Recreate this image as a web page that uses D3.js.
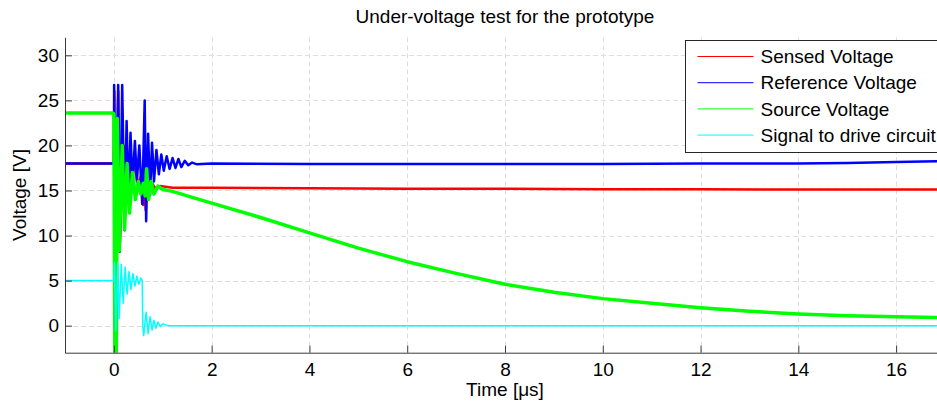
<!DOCTYPE html>
<html>
<head>
<meta charset="utf-8">
<script src="https://cdn.jsdelivr.net/npm/d3@7"></script>
<style>
  body { margin: 0; background: #fff; }
  svg { display: block; font-family: "Liberation Sans", Arial, sans-serif; }
</style>
</head>
<body>
<div id="chart"></div>
<script>
// values (time in µs, voltage in V)
const timeTicks = [0, 2, 4, 6, 8, 10, 12, 14, 16];
const voltTicks = [0, 5, 10, 15, 20, 25, 30];

const sensedVoltage = [
  [-1, 18], [0, 18], [0.01, 26], [0.03, 9], [0.09, 26], [0.12, 9], [0.2, 20], [0.3, 15],
  [0.4, 18.5], [0.5, 15.5], [0.56, 16.8], [0.6, 13.4], [0.62, 16.5], [0.65, 12.8],
  [0.68, 16.2], [0.72, 15], [0.78, 15.8], [0.85, 15.2], [0.95, 15.5], [1.2, 15.3],
  [2, 15.3], [4, 15.25], [6, 15.2], [8, 15.2], [10, 15.15], [12, 15.15], [14, 15.1],
  [16, 15.1], [17, 15.1]
];

const referenceVoltage = [
  [-1, 18], [0, 18], [0.005, 26.7], [0.03, 8.2], [0.088, 26.7], [0.12, 8.2], [0.17, 26.7],
  [0.22, 10.6], [0.26, 22.7], [0.3, 14], [0.34, 21.4], [0.38, 15.5], [0.43, 20.5],
  [0.47, 16], [0.52, 20], [0.58, 13.5], [0.63, 25], [0.66, 11.6], [0.7, 21.3], [0.74, 14.5],
  [0.78, 20.3], [0.82, 16], [0.87, 19.5], [0.92, 16.8], [0.97, 19], [1.02, 17.2],
  [1.08, 18.8], [1.14, 17.4], [1.2, 18.6], [1.26, 17.5], [1.32, 18.5], [1.38, 17.6],
  [1.45, 18.3], [1.52, 17.8], [1.6, 18.1], [1.7, 17.9], [2, 18], [4, 17.95], [6, 17.95],
  [8, 17.95], [10, 17.95], [12, 18], [14, 18], [15, 18.05], [16, 18.15], [17, 18.25]
];

const sourceVoltage = [
  [-1, 23.6], [-0.02, 23.6], [0, 23.5], [0.02, -3.5], [0.05, -3.5], [0.07, 23], [0.11, 8.3],
  [0.17, 20], [0.22, 10.7], [0.27, 18], [0.32, 12.5], [0.38, 17], [0.44, 14], [0.5, 16],
  [0.55, 14.6], [0.6, 15.8], [0.64, 14.4], [0.67, 17.4], [0.71, 14], [0.76, 16],
  [0.82, 14.6], [0.9, 15.5], [1, 15.1], [1.2, 14.9], [1.5, 14.4], [2, 13.6], [3, 12],
  [4, 10.3], [5, 8.6], [6, 7.1], [7, 5.8], [8, 4.6], [9, 3.7], [10, 3], [11, 2.5], [12, 2],
  [13, 1.6], [14, 1.3], [15, 1.1], [16, 1], [17, 0.9]
];

const driveSignal = [
  [-1, 5], [0, 5], [0.01, 7], [0.04, -0.6], [0.08, 7], [0.11, 0.8], [0.15, 6.8], [0.19, 2.5],
  [0.23, 6.5], [0.27, 3.5], [0.31, 6], [0.35, 4], [0.39, 5.8], [0.43, 4.4], [0.47, 5.5],
  [0.51, 4.6], [0.55, 5.3], [0.58, 5], [0.59, 0], [0.61, -1.1], [0.66, 1.5], [0.7, -0.9],
  [0.74, 1], [0.78, -0.5], [0.82, 0.6], [0.86, -0.3], [0.9, 0.4], [0.95, -0.1], [1, 0.2],
  [1.1, 0], [17, 0]
];

const seriesNames = ["Sensed Voltage", "Reference Voltage", "Source Voltage", "Signal to drive circuit"];
const seriesColors = ["#ff0000", "#0000ff", "#00ff00", "#00ffff"];
const seriesWidths = [2.5, 2.5, 3.5, 1.5];
const seriesData = [sensedVoltage, referenceVoltage, sourceVoltage, driveSignal];

let width = 937, height = 408;
let margin = {top: 37.3, right: -8, bottom: 55.3, left: 65};
let fontSize = 19;

let x = d3.scaleLinear()
  .domain([-1, 17])
  .range([margin.left, width - margin.right]);

let y = d3.scaleLinear()
  .domain([-3, 32])
  .range([height - margin.bottom, margin.top]);

const svg = d3.select("#chart")
  .append("svg")
  .attr("width", width)
  .attr("height", height);

svg.append("clipPath")
  .attr("id", "plot-clip")
  .append("rect")
  .attr("x", x.range()[0])
  .attr("y", y.range()[1])
  .attr("width", x.range()[1] - x.range()[0])
  .attr("height", y.range()[0] - y.range()[1]);

// grid
let grid = svg.append("g")
  .attr("stroke", "#dedede")
  .attr("stroke-width", 1)
  .attr("stroke-dasharray", "5,3");

grid.selectAll(".vgrid")
  .data(timeTicks)
  .join("line")
  .attr("x1", d => Math.round(x(d)) + 0.5)
  .attr("x2", d => Math.round(x(d)) + 0.5)
  .attr("y1", y.range()[1])
  .attr("y2", y.range()[0]);

grid.selectAll(".hgrid")
  .data(voltTicks)
  .join("line")
  .attr("x1", x.range()[0])
  .attr("x2", x.range()[1])
  .attr("y1", d => Math.round(y(d)) + 0.5)
  .attr("y2", d => Math.round(y(d)) + 0.5);

// traces
let line = d3.line()
  .x(d => x(d[0]))
  .y(d => y(d[1]));

svg.append("g")
  .attr("clip-path", "url(#plot-clip)")
  .selectAll("path")
  .data(seriesData)
  .join("path")
  .attr("fill", "none")
  .attr("stroke", (d, i) => seriesColors[i])
  .attr("stroke-width", (d, i) => seriesWidths[i])
  .attr("stroke-linejoin", "round")
  .attr("d", line);

// axes
let xAxis = g => g
  .attr("transform", `translate(0,${y.range()[0]})`)
  .call(d3.axisBottom(x).tickValues(timeTicks).tickSize(-7).tickSizeOuter(0).tickPadding(10))
  .call(g => g.selectAll("text").attr("font-size", fontSize).attr("fill", "#000"))
  .call(g => g.selectAll("line, path").attr("stroke", "#3a3a3a"));

let yAxis = g => g
  .attr("transform", `translate(${x.range()[0]},0)`)
  .call(d3.axisLeft(y).tickValues(voltTicks).tickSize(-7).tickSizeOuter(0).tickPadding(6))
  .call(g => g.selectAll("text").attr("font-size", fontSize).attr("fill", "#000"))
  .call(g => g.selectAll("line, path").attr("stroke", "#3a3a3a"));

svg.append("g").call(xAxis);
svg.append("g").call(yAxis);

// titles
svg.append("text")
  .attr("x", (x.range()[0] + x.range()[1]) / 2)
  .attr("y", 23)
  .attr("text-anchor", "middle")
  .attr("font-size", fontSize)
  .text("Under-voltage test for the prototype");

svg.append("text")
  .attr("x", (x.range()[0] + x.range()[1]) / 2)
  .attr("y", 396)
  .attr("text-anchor", "middle")
  .attr("font-size", fontSize)
  .text("Time [\u03bcs]");

svg.append("text")
  .attr("transform", `translate(26,${(y.range()[0] + y.range()[1]) / 2}) rotate(-90)`)
  .attr("text-anchor", "middle")
  .attr("font-size", fontSize)
  .text("Voltage [V]");

// legend
let legend = svg.append("g")
  .attr("transform", "translate(685.5,40.5)");

legend.append("rect")
  .attr("width", 262)
  .attr("height", 112)
  .attr("fill", "#fff")
  .attr("stroke", "#262626");

let rows = legend.selectAll(".row")
  .data(seriesNames)
  .join("g")
  .attr("transform", (d, i) => `translate(0,${16 + i * 26.2})`);

rows.append("line")
  .attr("x1", 12)
  .attr("x2", 68)
  .attr("stroke", (d, i) => seriesColors[i])
  .attr("stroke-width", 1);

rows.append("text")
  .attr("x", 75)
  .attr("dy", "0.35em")
  .attr("font-size", fontSize)
  .text(d => d);
</script>
</body>
</html>
